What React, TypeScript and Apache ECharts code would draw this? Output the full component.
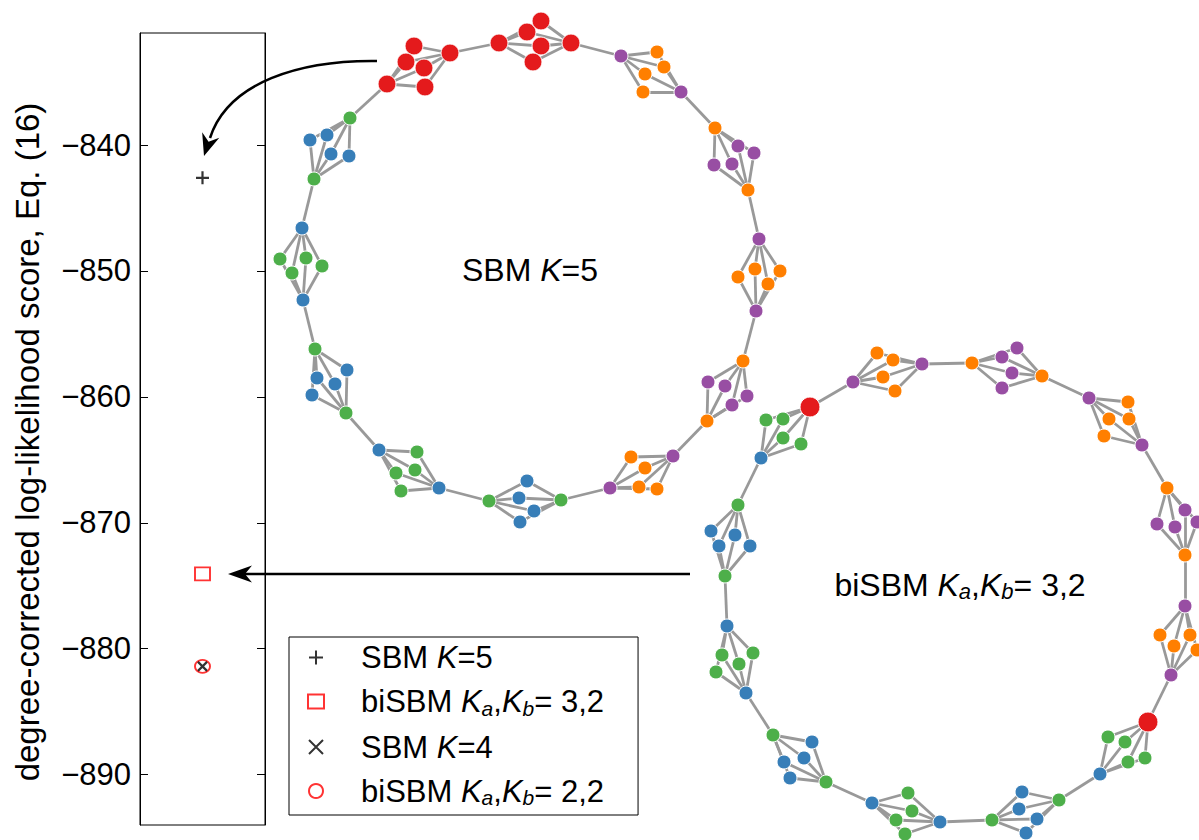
import React, { useEffect, useRef } from 'react';
import * as echarts from 'echarts';

const FONT = '"Liberation Sans", Arial, Helvetica, sans-serif';
const COLORS: Record<string, string> = { r: '#e41a1c', b: '#377eb8', g: '#4daf4a', p: '#984ea3', o: '#ff7f00' };

// ---- score panel data ----
const yTicks = [-890, -880, -870, -860, -850, -840];
const yMin = -894;
const yMax = -831.1;
const xCategories = ['score'];
const seriesNames = ['SBM K=5', 'biSBM Ka,Kb= 3,2', 'SBM K=4', 'biSBM Ka,Kb= 2,2'];
const sbmK5 = [-842.6];
const bisbm32 = [-874.05];
const sbmK4 = [-881.4];
const bisbm22 = [-881.4];

// ---- ring network 1 (SBM K=5 partition): 12 groups, 2 hubs + 4 inner nodes each ----
const ring1Hubs = [
  [[387, 84], [450, 53]],
  [[499, 43], [571, 43]],
  [[621, 56], [681, 92]],
  [[715, 128], [748, 190]],
  [[759, 239], [756, 311]],
  [[743, 361], [707, 421]],
  [[673, 456], [610, 488]],
  [[561, 500], [489, 501]],
  [[439, 488], [379, 450]],
  [[346, 413], [315, 349]],
  [[303, 300], [302, 228]],
  [[314, 179], [350, 118]],
];
const ring1HubColors = ['rr', 'rr', 'pp', 'oo', 'pp', 'oo', 'pp', 'gg', 'bb', 'gg', 'bb', 'gg'];
const ring1Inners = [
  [[414, 46], [406, 62], [424, 68], [425, 87]],
  [[527, 32], [541, 21], [541, 46], [533, 62]],
  [[657, 52], [664, 67], [645, 74], [643, 92]],
  [[738, 146], [754, 153], [714, 165], [732, 164]],
  [[738, 277], [755, 269], [780, 271], [768, 284]],
  [[708, 382], [725, 386], [747, 396], [732, 405]],
  [[631, 457], [645, 468], [639, 487], [657, 489]],
  [[527, 481], [519, 498], [534, 511], [520, 522]],
  [[417, 452], [396, 473], [415, 470], [401, 491]],
  [[317, 378], [335, 384], [347, 370], [312, 395]],
  [[280, 259], [306, 258], [292, 273], [322, 266]],
  [[310, 140], [327, 135], [331, 154], [349, 156]],
];
const ring1InnerColors = ['r', 'r', 'o', 'p', 'o', 'p', 'o', 'b', 'g', 'b', 'g', 'b'];

// ---- ring network 2 (biSBM Ka,Kb = 3,2 partition) ----
const ring2Hubs = [
  [[761, 458], [810, 407]],
  [[853, 382], [922, 364]],
  [[972, 363], [1042, 376]],
  [[1089, 398], [1142, 445]],
  [[1167, 488], [1185, 555]],
  [[1185, 606], [1171, 675]],
  [[1148, 722], [1100, 774]],
  [[1059, 800], [992, 820]],
  [[940, 822], [872, 803]],
  [[826, 782], [773, 735]],
  [[746, 693], [727, 626]],
  [[725, 576], [738, 505]],
];
const ring2HubColors = ['br', 'pp', 'oo', 'pp', 'oo', 'pp', 'rb', 'gg', 'bb', 'gg', 'bb', 'gg'];
const ring2Inners = [
  [[766, 420], [783, 419], [783, 438], [801, 444]],
  [[877, 353], [893, 360], [883, 377], [895, 391]],
  [[1002, 357], [1017, 348], [1012, 373], [1002, 388]],
  [[1128, 402], [1109, 419], [1129, 419], [1104, 436]],
  [[1185, 510], [1157, 524], [1175, 527], [1197, 522]],
  [[1160, 635], [1174, 646], [1190, 635], [1197, 650]],
  [[1108, 737], [1125, 742], [1128, 762], [1145, 758]],
  [[1022, 792], [1019, 809], [1037, 819], [1026, 833]],
  [[908, 793], [912, 811], [896, 820], [905, 834]],
  [[812, 742], [804, 758], [784, 762], [790, 778]],
  [[722, 655], [753, 653], [739, 664], [716, 672]],
  [[711, 531], [735, 535], [719, 546], [750, 546]],
];
const ring2InnerColors = ['g', 'o', 'p', 'o', 'p', 'o', 'g', 'b', 'g', 'b', 'g', 'b'];

function buildRing(
  prefix: string,
  hubs: number[][][],
  hubColors: string[],
  inners: number[][][],
  innerColors: string[],
  bigSize: number,
  nodes: any[],
  links: any[]
) {
  const hubIdx: number[][] = [];
  const add = (pt: number[], c: string) => {
    nodes.push({
      name: prefix + nodes.length,
      value: pt,
      symbolSize: c === 'r' ? bigSize : 14,
      itemStyle: { color: COLORS[c] },
    });
    return nodes.length - 1;
  };
  hubs.forEach((pair, ci) => {
    const h = pair.map((pt, k) => add(pt, hubColors[ci][k]));
    hubIdx.push(h);
    inners[ci].forEach((pt) => {
      const i = add(pt, innerColors[ci]);
      links.push({ source: h[0], target: i }, { source: h[1], target: i });
    });
  });
  for (let ci = 0; ci < hubIdx.length; ci++) {
    links.push({ source: hubIdx[ci][1], target: hubIdx[(ci + 1) % hubIdx.length][0] });
  }
}

const minus = (v: number) => (v < 0 ? '\u2212' + Math.abs(v) : String(v));

const FS = 31;
const legendFormat: Record<string, string> = {
  'SBM K=5': '{f|SBM }{i|K}{t|=5}',
  'biSBM Ka,Kb= 3,2': '{f|biSBM }{i|K}{s|a}{t|,}{i|K}{s|b}{t|= 3,2}',
  'SBM K=4': '{f|SBM }{i|K}{t|=4}',
  'biSBM Ka,Kb= 2,2': '{f|biSBM }{i|K}{s|a}{t|,}{i|K}{s|b}{t|= 2,2}',
};

const rich = {
  f: { fontSize: FS, fontFamily: FONT, color: '#000', lineHeight: 34, padding: [0, 0, 0, 32] },
  t: { fontSize: FS, fontFamily: FONT, color: '#000', lineHeight: 34 },
  i: { fontSize: FS, fontFamily: FONT, color: '#000', lineHeight: 34, fontStyle: 'italic' },
  s: { fontSize: 21, fontFamily: FONT, color: '#000', lineHeight: 16, fontStyle: 'italic', verticalAlign: 'bottom' },
};
const richPlain = {
  t: { fontSize: 32, fontFamily: FONT, color: '#000', lineHeight: 34 },
  i: { fontSize: 32, fontFamily: FONT, color: '#000', lineHeight: 34, fontStyle: 'italic' },
  s: { fontSize: 22, fontFamily: FONT, color: '#000', lineHeight: 16, fontStyle: 'italic', verticalAlign: 'bottom' },
};

function arrowHead(tip: number[], dir: number[], len: number, half: number, notch: number) {
  const n = Math.hypot(dir[0], dir[1]);
  const d = [dir[0] / n, dir[1] / n];
  const p = [-d[1], d[0]];
  const b = [tip[0] - len * d[0], tip[1] - len * d[1]];
  return [
    tip,
    [b[0] + half * p[0], b[1] + half * p[1]],
    [tip[0] - notch * d[0], tip[1] - notch * d[1]],
    [b[0] - half * p[0], b[1] - half * p[1]],
  ];
}

export default function App() {
  const ref = useRef<HTMLDivElement>(null);
  useEffect(() => {
    if (!ref.current) return;
    const chart = echarts.init(ref.current, null, { renderer: 'svg' });
    const nodes: any[] = [];
    const links: any[] = [];
    buildRing('a', ring1Hubs, ring1HubColors, ring1Inners, ring1InnerColors, 18, nodes, links);
    buildRing('b', ring2Hubs, ring2HubColors, ring2Inners, ring2InnerColors, 20, nodes, links);

    const option: any = {
      animation: false,
      backgroundColor: '#fff',
      grid: [
        { left: 140, top: 33, width: 125, height: 792, show: true, borderColor: '#000', borderWidth: 1 },
        { left: 0, top: 0, width: 1199, height: 840, show: false },
      ],
      xAxis: [
        { gridIndex: 0, type: 'category', data: xCategories, show: false },
        { gridIndex: 1, type: 'value', min: 0, max: 1199, show: false },
      ],
      yAxis: [
        {
          gridIndex: 0,
          type: 'value',
          min: yMin,
          max: yMax,
          position: 'left',
          splitNumber: 6,
          axisLine: { show: true, lineStyle: { color: '#000', width: 1 } },
          axisTick: { show: true, inside: true, length: 8, customValues: yTicks, lineStyle: { color: '#000', width: 1 } },
          axisLabel: {
            customValues: yTicks,
            formatter: (v: number) => minus(v),
            fontSize: 31,
            fontFamily: FONT,
            color: '#000',
            margin: 9,
          },
          splitLine: { show: false },
          name: 'degree-corrected log-likelihood score, Eq. (16)',
          nameLocation: 'middle',
          nameGap: 96,
          nameRotate: 90,
          nameTextStyle: { fontSize: 33, fontFamily: FONT, color: '#000', padding: [0, 26, 0, 0] },
        },
        {
          gridIndex: 0,
          type: 'value',
          min: yMin,
          max: yMax,
          position: 'right',
          splitNumber: 6,
          axisLine: { show: true, lineStyle: { color: '#000', width: 1 } },
          axisTick: { show: true, inside: true, length: 8, customValues: yTicks, lineStyle: { color: '#000', width: 1 } },
          axisLabel: { show: false },
          splitLine: { show: false },
        },
        { gridIndex: 1, type: 'value', min: 0, max: 840, inverse: true, show: false },
      ],
      legend: {
        orient: 'vertical',
        left: 289,
        top: 637,
        padding: [5, 34, 7, 18],
        itemGap: 13,
        itemWidth: 16,
        itemHeight: 14,
        borderColor: '#000',
        borderWidth: 1,
        borderRadius: 0,
        backgroundColor: '#fff',
        selectedMode: false,
        data: seriesNames,
        formatter: (name: string) => legendFormat[name],
        textStyle: { fontSize: FS, fontFamily: FONT, color: '#000', rich },
      },
      series: [
        {
          type: 'graph',
          coordinateSystem: 'cartesian2d',
          xAxisIndex: 1,
          yAxisIndex: 2,
          layout: 'none',
          silent: true,
          z: 5,
          data: nodes,
          links,
          symbol: 'circle',
          itemStyle: { borderColor: '#fff', borderWidth: 1 },
          lineStyle: { color: '#999', width: 2.8, opacity: 1, curveness: 0 },
          label: { show: false },
          emphasis: { disabled: true },
        },
        {
          name: seriesNames[0],
          type: 'scatter',
          xAxisIndex: 0,
          yAxisIndex: 0,
          data: sbmK5.map((v, i) => [xCategories[i], v]),
          symbol: 'path://M6,0L6,12M0,6L12,6',
          symbolSize: 13,
          symbolKeepAspect: true,
          itemStyle: { color: '#000', borderColor: '#000', borderWidth: 2.2 },
          z: 3,
        },
        {
          name: seriesNames[1],
          type: 'scatter',
          xAxisIndex: 0,
          yAxisIndex: 0,
          data: bisbm32.map((v, i) => [xCategories[i], v]),
          symbol: 'rect',
          symbolSize: [15, 13],
          itemStyle: { color: 'rgba(255,255,255,0)', borderColor: '#ff0000', borderWidth: 1.8 },
          z: 3,
        },
        {
          name: seriesNames[2],
          type: 'scatter',
          xAxisIndex: 0,
          yAxisIndex: 0,
          data: sbmK4.map((v, i) => [xCategories[i], v]),
          symbol: 'path://M0,0L10,10M10,0L0,10',
          symbolSize: 9,
          symbolKeepAspect: true,
          itemStyle: { color: '#000', borderColor: '#000', borderWidth: 2.2 },
          z: 4,
        },
        {
          name: seriesNames[3],
          type: 'scatter',
          xAxisIndex: 0,
          yAxisIndex: 0,
          data: bisbm22.map((v, i) => [xCategories[i], v]),
          symbol: 'circle',
          symbolSize: [15, 13],
          itemStyle: { color: 'rgba(255,255,255,0)', borderColor: '#ff0000', borderWidth: 1.8 },
          z: 3,
        },
      ],
      graphic: [
        {
          type: 'bezierCurve',
          z: 50,
          shape: { x1: 377, y1: 61, cpx1: 300, cpy1: 60, cpx2: 228, cpy2: 82, x2: 210, y2: 138 },
          style: { stroke: '#000', lineWidth: 2.5, fill: null },
        },
        {
          type: 'polygon',
          z: 50,
          shape: { points: arrowHead([204, 156], [-18, 56], 22, 9, 15) },
          style: { fill: '#000' },
        },
        {
          type: 'line',
          z: 50,
          shape: { x1: 690, y1: 574, x2: 240, y2: 574 },
          style: { stroke: '#000', lineWidth: 2.5 },
        },
        {
          type: 'polygon',
          z: 50,
          shape: { points: arrowHead([228, 574], [-1, 0], 24, 8.5, 17) },
          style: { fill: '#000' },
        },
        {
          type: 'text',
          z: 50,
          x: 530,
          y: 270,
          style: { text: '{t|SBM }{i|K}{t|=5}', rich: richPlain, align: 'center', verticalAlign: 'middle' },
        },
        {
          type: 'text',
          z: 50,
          x: 960,
          y: 585,
          style: {
            text: '{t|biSBM }{i|K}{s|a}{t|,}{i|K}{s|b}{t|= 3,2}',
            rich: richPlain,
            align: 'center',
            verticalAlign: 'middle',
          },
        },
      ],
    };
    chart.setOption(option);
    return () => chart.dispose();
  }, []);
  return (
    <div
      ref={ref}
      style={{ position: 'fixed', left: 0, top: 0, width: 1199, height: 840, background: '#fff' }}
    />
  );
}
